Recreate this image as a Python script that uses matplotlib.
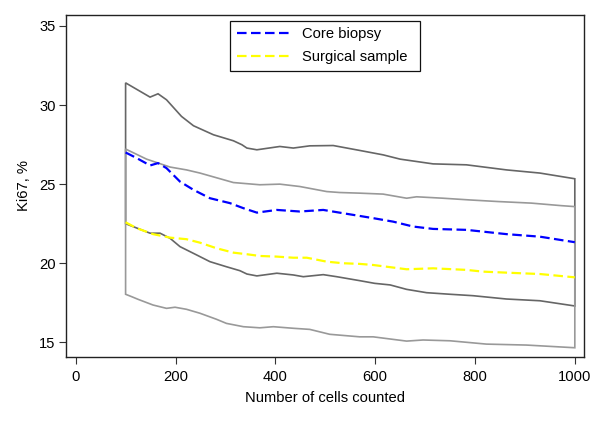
import numpy as np
import matplotlib
matplotlib.use("Agg")
import matplotlib.pyplot as plt

plt.rcParams.update({
    "font.family": ["Liberation Sans", "DejaVu Sans"],
    "font.size": 10.6,
})

# ── core biopsy: mean and band ───────────────────────────────────────────────
core_x = [100, 122, 149, 165, 182, 209, 236, 269, 309, 336, 363, 403, 449, 496,
          536, 569, 596, 636, 676, 716, 783, 863, 930, 1000]
core_mean = [27.0, 26.65, 26.18, 26.33, 26.01, 25.16, 24.64, 24.11, 23.8, 23.48,
             23.2, 23.37, 23.27, 23.37, 23.16, 22.99, 22.85, 22.63, 22.32, 22.17,
             22.11, 21.84, 21.68, 21.33]

core_hi_x = [100, 149, 165, 182, 212, 236, 276, 316, 333, 343, 363, 409, 436, 469,
             516, 569, 616, 650, 683, 716, 783, 863, 930, 1000]
core_hi = [31.4, 30.5, 30.71, 30.33, 29.28, 28.69, 28.12, 27.74, 27.49, 27.28,
           27.17, 27.38, 27.28, 27.42, 27.44, 27.13, 26.85, 26.58, 26.43, 26.28,
           26.22, 25.9, 25.7, 25.34]

core_lo_x = [100, 149, 169, 189, 209, 242, 269, 302, 329, 343, 363, 403, 436, 456,
             496, 523, 569, 599, 630, 663, 703, 750, 796, 863, 930, 1000]
core_lo = [22.5, 21.9, 21.9, 21.58, 21.05, 20.53, 20.1, 19.78, 19.53, 19.32, 19.2,
           19.37, 19.26, 19.15, 19.28, 19.15, 18.9, 18.73, 18.63, 18.35, 18.14,
           18.04, 17.95, 17.74, 17.63, 17.3]

# ── surgical sample: mean and band ───────────────────────────────────────────
surg_x = [100, 122, 155, 189, 222, 249, 282, 316, 343, 369, 403, 436, 463, 503,
          536, 569, 596, 663, 716, 783, 816, 890, 930, 1000]
surg_mean = [22.59, 22.22, 21.84, 21.62, 21.52, 21.3, 20.95, 20.67, 20.57, 20.46,
             20.42, 20.35, 20.35, 20.1, 20.0, 19.96, 19.89, 19.62, 19.68, 19.58,
             19.47, 19.37, 19.32, 19.11]

surg_hi_x = [100, 142, 189, 222, 249, 316, 369, 409, 449, 503, 529, 569, 616, 663,
             683, 736, 790, 846, 913, 973, 1000]
surg_hi = [27.22, 26.58, 26.08, 25.9, 25.7, 25.1, 24.96, 25.0, 24.85, 24.53, 24.47,
           24.43, 24.37, 24.11, 24.2, 24.11, 24.0, 23.9, 23.8, 23.64, 23.58]

surg_lo_x = [100, 112, 125, 155, 182, 199, 222, 249, 282, 302, 336, 369, 396, 436,
             469, 509, 569, 596, 663, 696, 750, 823, 903, 1000]
surg_lo = [18.04, 17.89, 17.72, 17.36, 17.15, 17.22, 17.09, 16.84, 16.46, 16.2,
           15.99, 15.92, 15.99, 15.89, 15.82, 15.51, 15.35, 15.35, 15.08, 15.15,
           15.1, 14.89, 14.83, 14.66]

DARK_GREY = "#666666"
LIGHT_GREY = "#999999"


def band(ax, xh, yh, xl, yl, color):
    # outline of the range area, closed at both ends like the original
    px = np.concatenate([xh, xl[::-1]])
    py = np.concatenate([yh, yl[::-1]])
    ax.fill(px, py, facecolor="none", edgecolor=color, lw=1.2, zorder=1)


fig = plt.figure(figsize=(6.0, 4.36), dpi=100)
ax = fig.add_axes([0.11, 0.181, 0.863, 0.785])

band(ax, core_hi_x, core_hi, core_lo_x, core_lo, DARK_GREY)
band(ax, surg_hi_x, surg_hi, surg_lo_x, surg_lo, LIGHT_GREY)
ax.plot(core_x, core_mean, color="#0000ff", lw=1.6, dashes=(4.3, 2.0),
        label="Core biopsy", zorder=3)
ax.plot(surg_x, surg_mean, color="#ffff00", lw=1.6, dashes=(4.3, 2.0),
        label="Surgical sample", zorder=3)

ax.set_xlim(-19.4, 1018)
ax.set_ylim(14.07, 35.7)
ax.set_xticks([0, 200, 400, 600, 800, 1000])
ax.set_yticks([15, 20, 25, 30, 35])
ax.tick_params(direction="out", length=5, width=0.8, color="#333333",
               labelsize=10.6, pad=2.5)
ax.tick_params(axis="x", pad=4)
for sp in ax.spines.values():
    sp.set_color("#222222")
    sp.set_linewidth(1.0)

ax.set_xlabel("Number of cells counted", fontsize=10.6, labelpad=5)
ax.set_ylabel("Ki67, %", fontsize=10.6, labelpad=6)

leg = ax.legend(loc="upper left", bbox_to_anchor=(0.317, 0.842, 0.366, 0.141),
                mode="expand", fontsize=10.6, handlelength=3.8,
                handletextpad=0.6, labelspacing=0.6, borderpad=0.45,
                fancybox=False, framealpha=1, edgecolor="#111111",
                borderaxespad=0)
leg.get_frame().set_linewidth(0.9)

fig.savefig("out.png", dpi=100)
